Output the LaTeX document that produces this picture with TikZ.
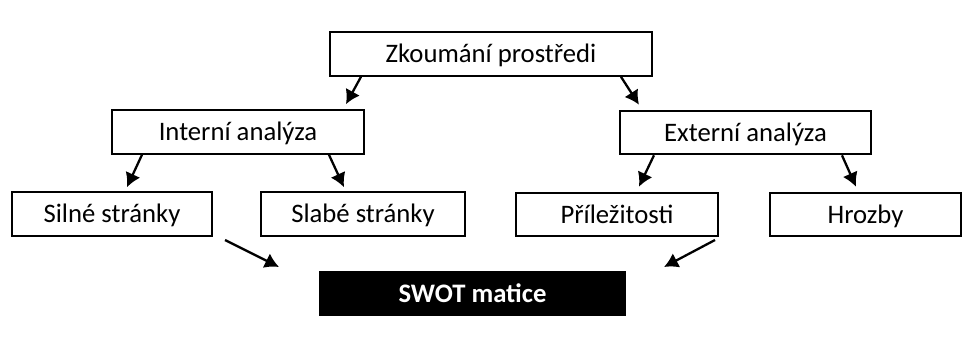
\documentclass[tikz,border=0pt]{standalone}
\usepackage{fontspec}
\setmainfont{Carlito}
\usetikzlibrary{arrows.meta}

\tikzset{
    box/.style={draw, line width=1.2pt, inner sep=0pt, minimum height=0.87cm, text height=10.5pt, text depth=0.5pt, font=\fontsize{15.2}{18}\selectfont},
    arr/.style={line width=1.3pt, -{Latex[length=0.28cm,width=0.32cm]}}
}

\begin{document}
\begin{tikzpicture}[x=0.02cm, y=-0.02cm]
    \useasboundingbox (0,0) rectangle (963,340);
    % uroven 1
    \node[box, minimum width=6.44cm] (env) at (491,54) {Zkoumání prostředi};
    % uroven 2
    \node[box, minimum width=5.04cm] (int) at (238,132) {Interní analýza};
    \node[box, minimum width=5.02cm] (ext) at (745.5,132.5) {Externí analýza};
    % uroven 3
    \node[box, minimum width=4.0cm] (silne) at (112,214) {Silné stránky};
    \node[box, minimum width=4.08cm] (slabe) at (363,214) {Slabé stránky};
    \node[box, minimum width=4.04cm] (prilez) at (617,214.5) {Příležitosti};
    \node[box, minimum width=3.82cm] (hrozby) at (865.5,214.5) {Hrozby};
    % vysledek
    \node[box, fill=black, text=white, font=\fontsize{15.2}{18}\selectfont\bfseries, minimum width=6.1cm] (swot) at (472.5,293.5) {SWOT matice};
    \coordinate (sl) at (225,240);
    \coordinate (slend) at (279,267);
    \coordinate (sr) at (715,240);
    \coordinate (srend) at (664,267);
    % sipky
    \draw[arr] ([shift={(32,0)}]env.south west) -- ([shift={(235,-5)}]int.north west);
    \draw[arr] ([shift={(292,0)}]env.south west) -- ([shift={(20,-5)}]ext.north west);
    \draw[arr] ([shift={(31,0)}]int.south west) -- ([shift={(116,-4)}]silne.north west);
    \draw[arr] ([shift={(218,0)}]int.south west) -- ([shift={(84,-4)}]slabe.north west);
    \draw[arr] ([shift={(35,0)}]ext.south west) -- ([shift={(124,-5)}]prilez.north west);
    \draw[arr] ([shift={(223,0)}]ext.south west) -- ([shift={(87,-5)}]hrozby.north west);
    \draw[arr] (sl) -- (slend);
    \draw[arr] (sr) -- (srend);
\end{tikzpicture}
\end{document}
